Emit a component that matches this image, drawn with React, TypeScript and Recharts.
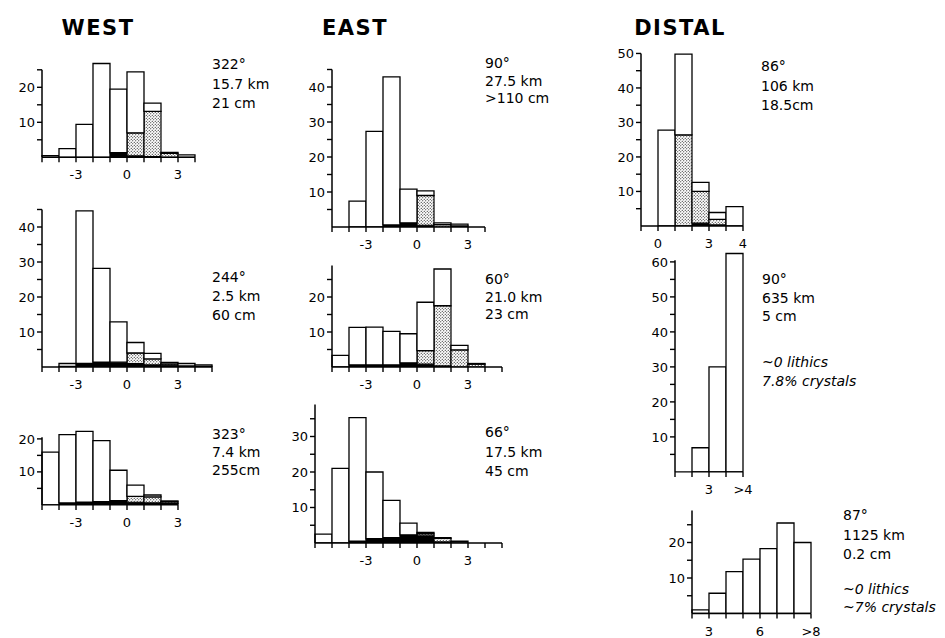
import React from 'react';
import { BarChart, Bar, XAxis, YAxis, ReferenceLine } from 'recharts';

// weight % per 1-phi bin: total, crystals (stippled), lithics (black)
const westTopTotal = [0.5, 2.5, 9.4, 26.8, 19.5, 24.4, 15.5, 1.4, 0.7];
const westTopCrystals = [0, 0, 0, 0, 0.3, 6.6, 12.9, 1.1, 0];
const westTopLithics = [0, 0, 0, 0, 1.0, 0.4, 0.2, 0, 0];

const westMidTotal = [0, 1.0, 44.6, 28.2, 12.9, 7.0, 3.9, 1.3, 1.0, 0.6];
const westMidCrystals = [0, 0, 0, 0.2, 0.4, 3.0, 1.7, 0.4, 0, 0];
const westMidLithics = [0, 0.2, 1.0, 1.2, 1.0, 1.0, 0.6, 0.5, 0.3, 0.2];

const westBotTotal = [16, 21.3, 22.3, 19.5, 10.5, 6, 3, 1.2];
const westBotCrystals = [0, 0, 0, 0, 0.3, 1.8, 1.8, 0.5];
const westBotLithics = [0, 0.6, 0.8, 1.0, 1.0, 0.8, 0.6, 0.4];

const eastTopTotal = [0, 7.4, 27.3, 42.9, 10.8, 10.3, 1.2, 0.8, 0];
const eastTopCrystals = [0, 0, 0, 0, 0, 8.5, 0.7, 0.3, 0];
const eastTopLithics = [0, 0, 0, 0.6, 1.2, 0.5, 0, 0, 0];

const eastMidTotal = [3.3, 11.3, 11.4, 10.2, 9.5, 18.5, 28.0, 6.2, 1.0, 0];
const eastMidCrystals = [0, 0, 0, 0, 0, 3.9, 17.2, 4.9, 0.8, 0];
const eastMidLithics = [0, 0.6, 0.6, 0.6, 1.2, 0.8, 0.3, 0, 0, 0];

const eastBotTotal = [2.5, 21, 35.3, 20, 12, 5.6, 3, 1.5, 0.5, 0, 0];
const eastBotCrystals = [0, 0, 0, 0, 0, 0.3, 0.6, 1.0, 0, 0, 0];
const eastBotLithics = [0, 0, 0.5, 1.2, 1.5, 2.0, 2.0, 0.3, 0, 0, 0];

const distalTopTotal = [0, 27.8, 49.8, 12.6, 3.9, 5.6];
const distalTopCrystals = [0, 0, 26.4, 9.2, 1.6, 0];
const distalTopLithics = [0, 0, 0, 0.8, 0.3, 0];

const distalMidTotal = [0, 6.9, 30.0, 62.4];
const distalBotTotal = [1.0, 5.7, 11.8, 15.3, 18.3, 25.5, 20.0];

// labels at bin edges (one more than bins)
const phiEdgesA = ['', '', '-3', '', '', '0', '', '', '3', '', ''];
const phiEdgesB = ['', '', '', '-3', '', '', '0', '', '', '3', '', ''];
const distalTopEdges = ['', '0', '', '', '3', '', '4'];
const distalMidEdges = ['', '', '3', '', '>4'];
const distalBotEdges = ['', '3', '', '', '6', '', '', '>8'];

const titles = ['WEST', 'EAST', 'DISTAL'];

const westTopNote = ['322°', '15.7 km', '21 cm'];
const westMidNote = ['244°', '2.5 km', '60 cm'];
const westBotNote = ['323°', '7.4 km', '255cm'];
const eastTopNote = ['90°', '27.5 km', '>110 cm'];
const eastMidNote = ['60°', '21.0 km', '23 cm'];
const eastBotNote = ['66°', '17.5 km', '45 cm'];
const distalTopNote = ['86°', '106 km', '18.5cm'];
const distalMidNote = ['90°', '635 km', '5 cm'];
const distalMidComp = ['~0 lithics', '7.8% crystals'];
const distalBotNote = ['87°', '1125 km', '0.2 cm'];
const distalBotComp = ['~0 lithics', '~7% crystals'];

const FONT = '"DejaVu Sans", "Open Sans", sans-serif';

// tick mark + label at the left edge of each bin (and the right edge of the last one)
function EdgeTick(props: any) {
  const { x, y, payload, labels, half, last } = props;
  const i = payload.value;
  const marks = [{ px: x - half, label: labels[i] }];
  if (i === last) marks.push({ px: x + half, label: labels[i + 1] });
  return (
    <g>
      {marks.map((m, k) => (
        <g key={k}>
          <line x1={m.px} x2={m.px} y1={y} y2={y + 5} stroke="#000" strokeWidth={1.4} />
          {m.label ? (
            <text x={m.px} y={y + 22} textAnchor="middle" fontSize={13} fill="#000">
              {m.label}
            </text>
          ) : null}
        </g>
      ))}
    </g>
  );
}

interface PanelProps {
  id: string;
  total: number[];
  crystals?: number[];
  lithics?: number[];
  edgeLabels: string[];
  axisTop: number;
  x0: number;
  base: number;
  binW: number;
  ppu: number;
}

function Panel({ id, total, crystals, lithics, edgeLabels, axisTop, x0, base, binW, ppu }: PanelProps) {
  const n = total.length;
  const data = total.map((t, i) => {
    const c = crystals ? crystals[i] : 0;
    const l = lithics ? lithics[i] : 0;
    return { bin: i, lithics: l, crystals: c, pumice: Math.max(t - c - l, 0) };
  });
  const top = Math.max(axisTop, ...total) + 1;
  const plotH = top * ppu;
  const yW = 30;
  const mTop = 4;
  const mRight = 22;
  const xH = 30;
  const width = yW + n * binW + mRight;
  const height = mTop + plotH + xH;
  const yTicks: number[] = [];
  for (let v = 5; v <= axisTop; v += 5) yTicks.push(v);
  const tickStyle = { fill: '#000', fontSize: 13, fontFamily: FONT };

  return (
    <div style={{ position: 'absolute', left: x0 - yW, top: base - plotH - mTop }}>
      <BarChart
        width={width}
        height={height}
        data={data}
        barCategoryGap={0}
        margin={{ top: mTop, right: mRight, bottom: 0, left: 0 }}
      >
        <defs>
          <pattern id={`dots-${id}`} width="3" height="3" patternUnits="userSpaceOnUse">
            <rect width="3" height="3" fill="#fff" />
            <circle cx="0.75" cy="0.75" r="0.55" fill="#000" />
            <circle cx="2.25" cy="2.25" r="0.55" fill="#000" />
          </pattern>
        </defs>
        <XAxis
          dataKey="bin"
          interval={0}
          height={xH}
          tickLine={false}
          tickSize={0}
          tickMargin={0}
          tick={<EdgeTick labels={edgeLabels} half={binW / 2} last={n - 1} />}
          stroke="#000"
          strokeWidth={1.4}
        />
        <YAxis
          domain={[0, top]}
          ticks={yTicks}
          interval={0}
          width={yW}
          axisLine={false}
          tickFormatter={(v) => (v % 10 === 0 ? String(v) : '')}
          tick={tickStyle}
          tickSize={5}
          tickMargin={2}
          stroke="#000"
          strokeWidth={1.4}
          allowDataOverflow
        />
        <ReferenceLine
          segment={[{ x: 0, y: 0 }, { x: 0, y: axisTop }]}
          position="start"
          stroke="#000"
          strokeWidth={1.5}
        />
        <Bar dataKey="lithics" stackId="s" fill="#000" stroke="#000" strokeWidth={1.2} isAnimationActive={false} />
        <Bar dataKey="crystals" stackId="s" fill={`url(#dots-${id})`} stroke="#000" strokeWidth={1.2} isAnimationActive={false} />
        <Bar dataKey="pumice" stackId="s" fill="#fff" stroke="#000" strokeWidth={1.3} isAnimationActive={false} />
      </BarChart>
    </div>
  );
}

function Note({ lines, x, y, gap, italic }: { lines: string[]; x: number; y: number; gap: number; italic?: boolean }) {
  return (
    <>
      {lines.map((t, i) => (
        <text key={i} x={x} y={y + i * gap} fontSize={14} fontStyle={italic ? 'italic' : 'normal'} fill="#000">
          {t}
        </text>
      ))}
    </>
  );
}

export default function App() {
  return (
    <div style={{ position: 'absolute', left: 0, top: 0, width: 945, height: 638, background: '#fff', fontFamily: FONT }}>
      <svg width={945} height={638} style={{ position: 'absolute', left: 0, top: 0 }} fontFamily={FONT}>
        {titles.map((t, i) => (
          <text key={t} x={[98, 355, 680][i]} y={35} textAnchor="middle" fontSize={21} fontWeight="bold" letterSpacing={1.5}>
            {t}
          </text>
        ))}
        <Note lines={westTopNote} x={212} y={69} gap={19.5} />
        <Note lines={westMidNote} x={212} y={282} gap={19} />
        <Note lines={westBotNote} x={212} y={439} gap={18} />
        <Note lines={eastTopNote} x={485} y={68} gap={17.5} />
        <Note lines={eastMidNote} x={485} y={284} gap={17.5} />
        <Note lines={eastBotNote} x={485} y={437} gap={19.5} />
        <Note lines={distalTopNote} x={761} y={71} gap={19.5} />
        <Note lines={distalMidNote} x={762} y={284} gap={18.5} />
        <Note lines={distalMidComp} x={762} y={367} gap={19} italic />
        <Note lines={distalBotNote} x={843} y={520} gap={19.5} />
        <Note lines={distalBotComp} x={843} y={594} gap={18} italic />
      </svg>
      <Panel id="wt" total={westTopTotal} crystals={westTopCrystals} lithics={westTopLithics} edgeLabels={phiEdgesA} axisTop={25} x0={42} base={157} binW={17} ppu={3.5} />
      <Panel id="wm" total={westMidTotal} crystals={westMidCrystals} lithics={westMidLithics} edgeLabels={phiEdgesA} axisTop={45} x0={42} base={367} binW={17} ppu={3.5} />
      <Panel id="wb" total={westBotTotal} crystals={westBotCrystals} lithics={westBotLithics} edgeLabels={phiEdgesA} axisTop={20.5} x0={42} base={505} binW={17} ppu={3.3} />
      <Panel id="et" total={eastTopTotal} crystals={eastTopCrystals} lithics={eastTopLithics} edgeLabels={phiEdgesA} axisTop={45} x0={332} base={227} binW={17} ppu={3.5} />
      <Panel id="em" total={eastMidTotal} crystals={eastMidCrystals} lithics={eastMidLithics} edgeLabels={phiEdgesA} axisTop={29} x0={332} base={367} binW={17} ppu={3.5} />
      <Panel id="eb" total={eastBotTotal} crystals={eastBotCrystals} lithics={eastBotLithics} edgeLabels={phiEdgesB} axisTop={39} x0={315} base={543} binW={17} ppu={3.55} />
      <Panel id="dt" total={distalTopTotal} crystals={distalTopCrystals} lithics={distalTopLithics} edgeLabels={distalTopEdges} axisTop={50} x0={641} base={226} binW={17} ppu={3.45} />
      <Panel id="dm" total={distalMidTotal} edgeLabels={distalMidEdges} axisTop={60.5} x0={675} base={472} binW={17} ppu={3.5} />
      <Panel id="db" total={distalBotTotal} edgeLabels={distalBotEdges} axisTop={29} x0={692} base={613} binW={17} ppu={3.55} />
    </div>
  );
}
